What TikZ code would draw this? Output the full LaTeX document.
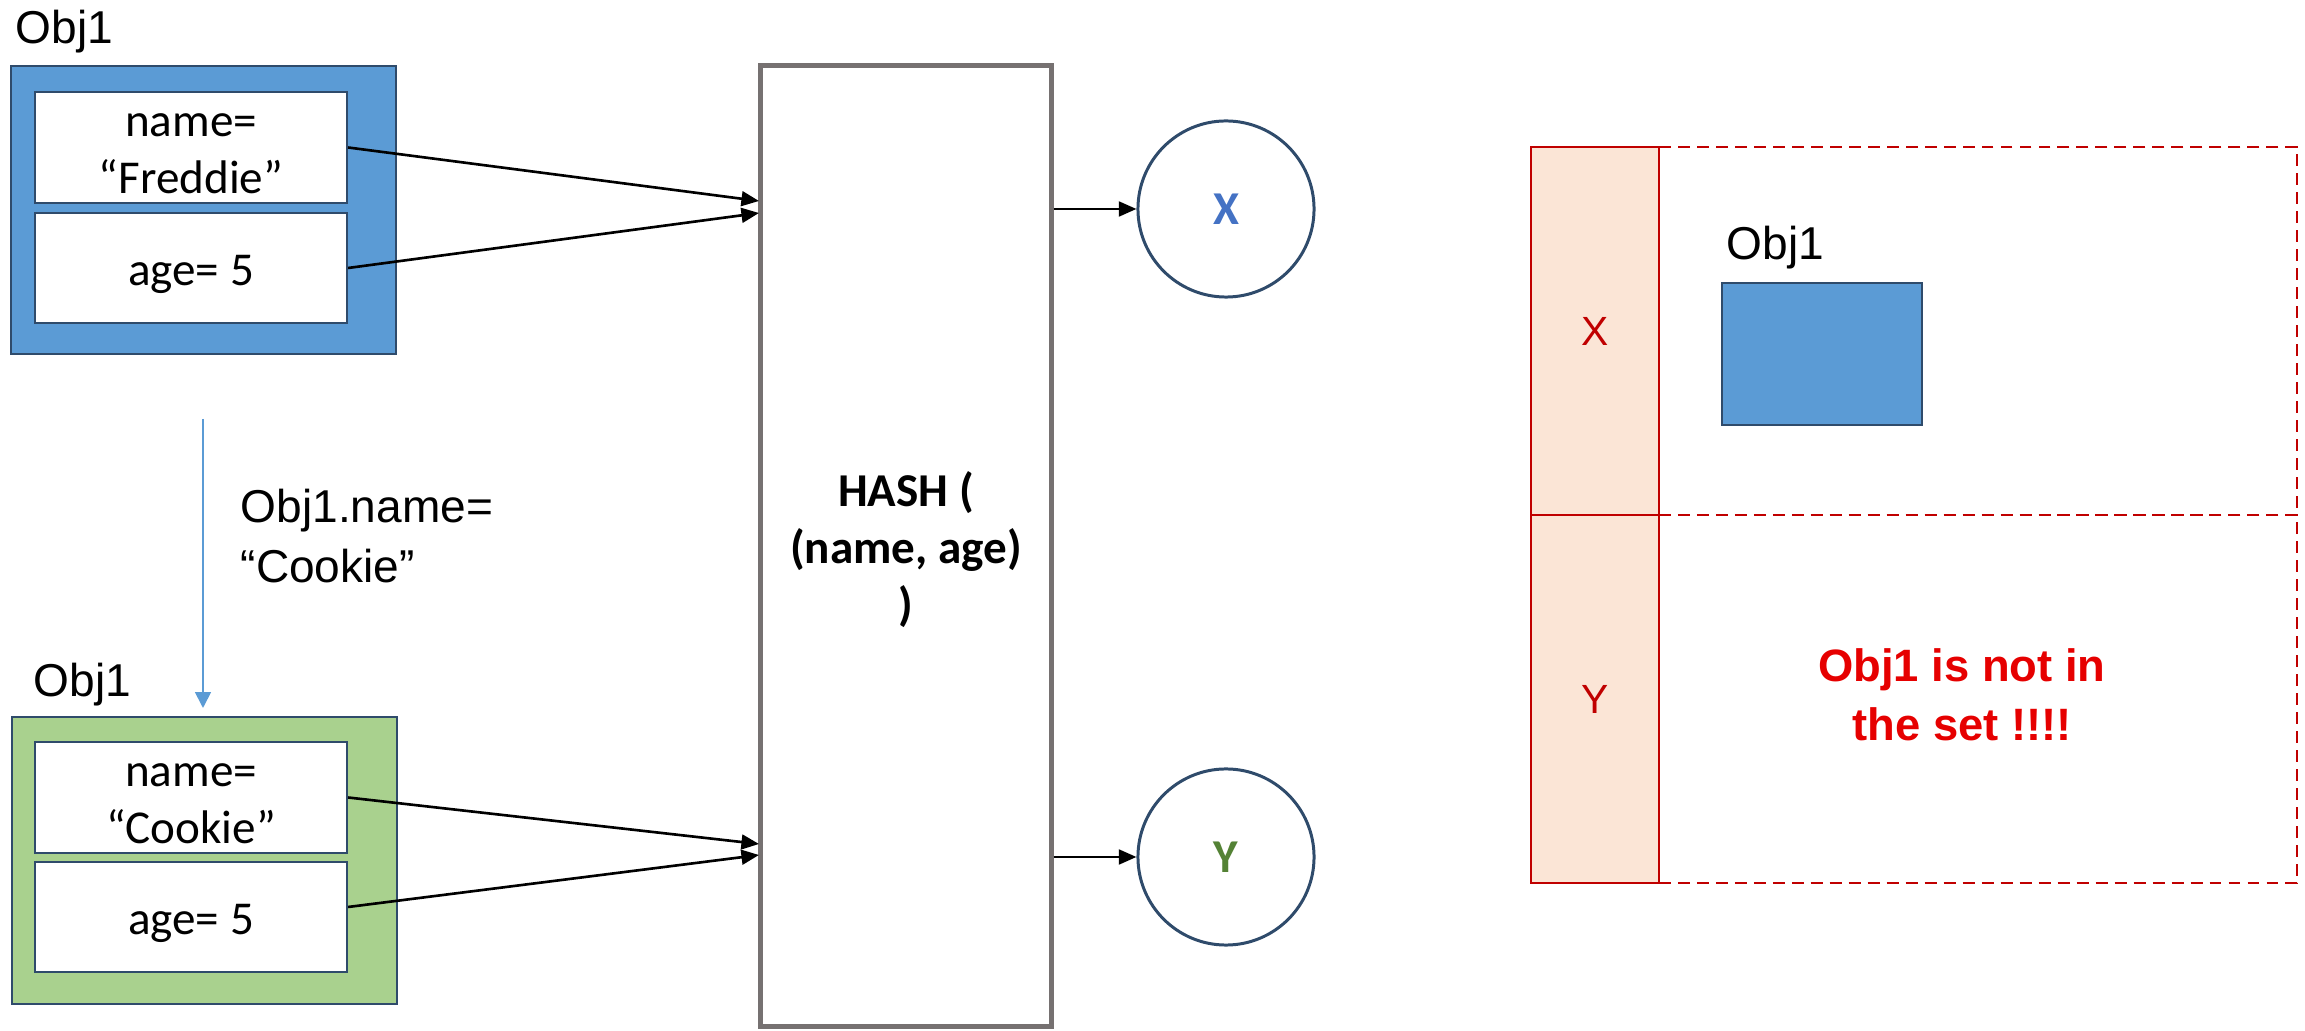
\documentclass[tikz,border=0pt]{standalone}
\usepackage{fontspec}
\setmainfont{Liberation Sans}
\newfontfamily\calib{Carlito}
\usetikzlibrary{arrows.meta}

\definecolor{objblue}{HTML}{5B9BD5}
\definecolor{objgreen}{HTML}{A9D18E}
\definecolor{navy}{HTML}{2F4B6B}
\definecolor{hashgray}{HTML}{767171}
\definecolor{keyblue}{HTML}{4472C4}
\definecolor{keygreen}{HTML}{548235}
\definecolor{bucketred}{HTML}{C00000}
\definecolor{bucketfill}{HTML}{FBE5D6}
\definecolor{alertred}{HTML}{E60000}

% line strut for the field boxes: keeps every line at the same height and depth
\newcommand\fieldstrut{\rule[-2.85pt]{0pt}{15.4pt}}

\begin{document}
\begin{tikzpicture}[x=0.01cm,y=-0.01cm,
  objbox/.style={draw=navy, line width=0.6pt, minimum width=3.85cm, minimum height=2.87cm, inner sep=0},
  field/.style={draw=navy, fill=white, line width=0.6pt, minimum width=3.12cm, inner sep=0,
    align=center, font=\calib\fontsize{13.4pt}{16.2pt}\selectfont},
  lbl/.style={font=\fontsize{13.1pt}{16.8pt}\selectfont, inner sep=0},
  link/.style={-{Triangle[length=5pt,width=4.2pt]}, line width=0.75pt, black},
  keycircle/.style={circle, draw=navy, line width=0.85pt, minimum size=1.76cm, inner sep=0,
    font=\calib\bfseries\fontsize{13.4pt}{15.6pt}\selectfont},
  bucketkey/.style={draw=bucketred, fill=bucketfill, line width=0.6pt, minimum width=1.28cm,
    minimum height=3.68cm, inner sep=0, text=bucketred, font=\fontsize{11.6pt}{13pt}\selectfont},
  bucketcell/.style={draw=bucketred, dash pattern=on 3.4pt off 2pt, line width=0.6pt,
    minimum width=6.38cm, minimum height=3.68cm, inner sep=0}
]
\useasboundingbox (0,0) rectangle (2305,1031);

% original object
\node[lbl, anchor=base west] (lblA) at (15,44) {Obj1};
\node[objbox, fill=objblue] (objA) at (203.5,210) {};
\node[field, minimum height=1.09cm] (nameA) at (191,147.5) {\fieldstrut name=\\\fieldstrut“Freddie”};
\node[field, minimum height=1.10cm] (ageA) at (191,268) {\fieldstrut age= 5};

% mutation step
\coordinate (chgS) at (203,419);
\coordinate (chgE) at (203,708);
\draw[draw=objblue, line width=0.5pt, -{Triangle[length=4.5pt,width=4.5pt]}] (chgS) -- (chgE);
\node[lbl, anchor=west, align=left, font=\fontsize{13.1pt}{16.8pt}\selectfont] (chgT) at (240,536) {Obj1.name=\\“Cookie”};

% mutated object
\node[lbl, anchor=base west] (lblB) at (33,697) {Obj1};
\node[objbox, fill=objgreen] (objB) at (204.5,860.5) {};
\node[field, minimum height=1.09cm] (nameB) at (191,797.5) {\fieldstrut name=\\\fieldstrut“Cookie”};
\node[field, minimum height=1.10cm] (ageB) at (191,917) {\fieldstrut age= 5};

% hash function
\node[draw=hashgray, line width=1.4pt, minimum width=2.90cm, minimum height=9.60cm, inner sep=0,
  align=center, font=\calib\bfseries\fontsize{13.4pt}{16.2pt}\selectfont] (hash) at (906,546)
  {\rule{0pt}{12.2pt}HASH (\\(name, age)\\)};

\coordinate (inA1) at (759,201);
\coordinate (inA2) at (759,213);
\coordinate (inB1) at (759,844);
\coordinate (inB2) at (759,855);
\draw[link] (nameA.east) -- (inA1);
\draw[link] (ageA.east) -- (inA2);
\draw[link] (nameB.east) -- (inB1);
\draw[link] ([yshift=0.1cm]ageB.east) -- (inB2);

% hash values
\node[keycircle, text=keyblue] (hx) at (1226,209) {X};
\node[keycircle, text=keygreen] (hy) at (1226,857) {Y};
\draw[link] (hash.east |- hx.west) -- (hx.west);
\draw[link] (hash.east |- hy.west) -- (hy.west);

% hash set buckets
\node[bucketkey] (bx) at (1595,331) {X};
\node[bucketkey] (by) at (1595,699) {Y};
\node[bucketcell] (cx) at (1978,331) {};
\node[bucketcell] (cy) at (1978,699) {};

\node[lbl, anchor=base west] (lblC) at (1726,260) {Obj1};
\node[draw=navy, fill=objblue, line width=0.6pt, minimum width=2.00cm, minimum height=1.42cm, inner sep=0] (objC) at (1822,354) {};

\node[align=center, text=alertred, inner sep=0,
  font=\bfseries\fontsize{12.9pt}{16.8pt}\selectfont] (msg) at (1962,695) {Obj1 is not in\\the set !!!!};
\end{tikzpicture}
\end{document}
